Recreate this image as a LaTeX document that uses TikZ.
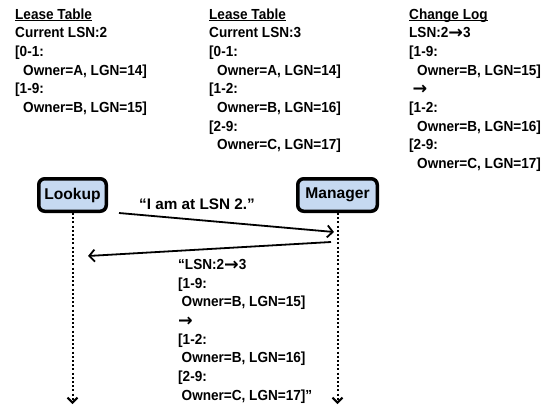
\documentclass[tikz,border=0pt]{standalone}
\usepackage{fontspec}
\setmainfont{Liberation Sans}
\newfontfamily\condfont[FakeStretch=0.93]{Liberation Sans}
\newfontfamily\symfont{DejaVu Sans}
\usetikzlibrary{arrows.meta}
\definecolor{boxblue}{HTML}{C6D9F1}
% heavy arrow used inside the log entries
\newcommand\chgarrow{\raisebox{-0.6pt}{\symfont\bfseries\fontsize{17.5}{18}\selectfont →}}
% underline at a fixed depth below the baseline
\newcommand\fixul[1]{\setbox0\hbox{#1}\rlap{\rule[-2.2pt]{\wd0}{1.2pt}}\box0}
\newcommand\ind{\hspace*{8pt}}
\tikzset{
  txt/.style={anchor=north west, inner sep=0pt, align=left,
    font=\condfont\bfseries\fontsize{14.6}{18.65}\selectfont},
  actor/.style={draw=black, line width=3.5pt, rounded corners=6pt, fill=boxblue,
    minimum height=32.5pt, inner sep=0pt, font=\bfseries\fontsize{15.6}{18}\selectfont},
  msg/.style={line width=1.8pt, -{Straight Barb[length=5.5pt,width=12pt]}},
  life/.style={line width=2pt, dash pattern=on 2pt off 2.2pt,
    -{Straight Barb[length=5pt,width=10pt]}},
  lbl/.style={anchor=base west, inner sep=0pt, font=\bfseries\fontsize{15.3}{18}\selectfont}
}
\begin{document}
\begin{tikzpicture}[x=1pt,y=-1pt]
\useasboundingbox (0,0) rectangle (544,408);

% state tables
\node[txt] (tab1) at (15,8.4) {\fixul{Lease Table}\\Current LSN:2\\{[}0-1:\\\ind Owner=A, LGN=14]\\{[}1-9:\\\ind Owner=B, LGN=15]};
\node[txt] (tab2) at (209,8.4) {\fixul{Lease Table}\\Current LSN:3\\{[}0-1:\\\ind Owner=A, LGN=14]\\{[}1-2:\\\ind Owner=B, LGN=16]\\{[}2-9:\\\ind Owner=C, LGN=17]};
\node[txt] (log) at (409,8.4) {\fixul{Change Log}\\LSN:2\chgarrow 3\\{[}1-9:\\\ind Owner=B, LGN=15]\\\hspace*{3.5pt}\chgarrow\\{[}1-2:\\\ind Owner=B, LGN=16]\\{[}2-9:\\\ind Owner=C, LGN=17]};

% participants
\node[actor, minimum width=67.5pt] (lookup) at (72.5,195) {Lookup};
\node[actor, minimum width=79.5pt] (manager) at (337.5,195) {Manager};

% lifelines
\coordinate (lookend) at (lookup.south |- 0,404);
\coordinate (manend) at (manager.south |- 0,404);
\draw[life] (lookup.south) -- (lookend);
\draw[life] (manager.south) -- (manend);

% messages
\coordinate (m1s) at (119,213);
\coordinate (m1e) at (334,232);
\coordinate (m2s) at (331,242);
\coordinate (m2e) at (88,256);
\draw[msg] (m1s) -- (m1e);
\draw[msg] (m2s) -- (m2e);
\node[lbl] (req) at (139,209.5) {“I am at LSN 2.”};
\node[txt] (resp) at (178,259.2) {“LSN:2\chgarrow 3\\{[}1-9:\\\hspace*{3.5pt}Owner=B, LGN=15]\\\chgarrow\\{[}1-2:\\\hspace*{3.5pt}Owner=B, LGN=16]\\{[}2-9:\\\hspace*{3.5pt}Owner=C, LGN=17]”};
\end{tikzpicture}
\end{document}
